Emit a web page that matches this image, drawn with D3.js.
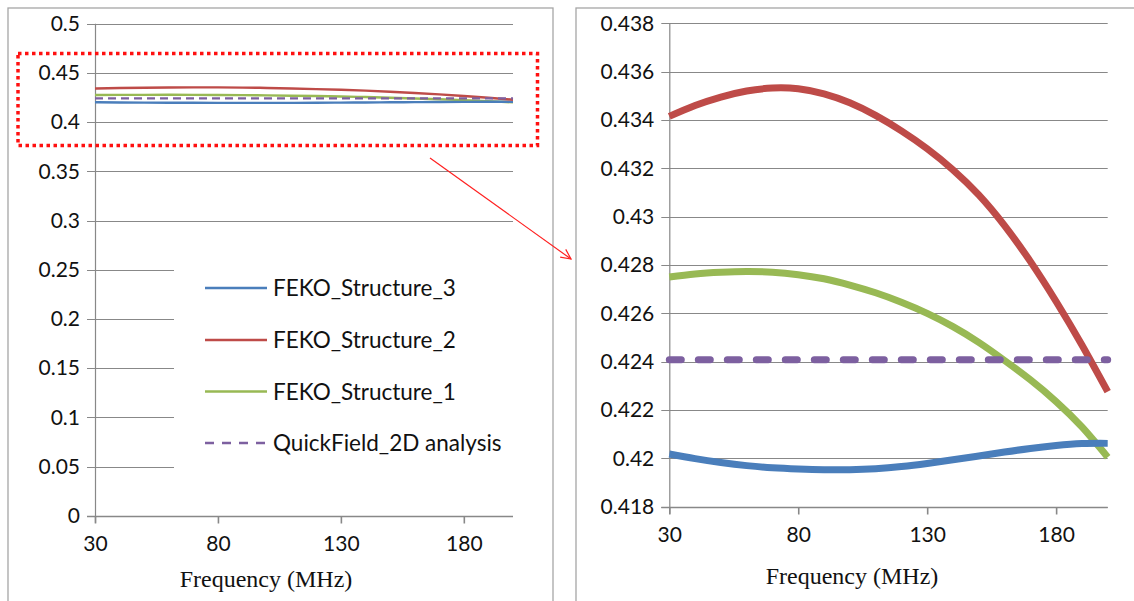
<!DOCTYPE html>
<html>
<head>
<meta charset="utf-8">
<script src="https://d3js.org/d3.v7.min.js"></script>
<style>
  html, body { margin: 0; padding: 0; background: #ffffff; }
  svg { display: block; }
</style>
</head>
<body>
<svg id="chart" width="1134" height="601"></svg>
<script>
// ---------------- data ----------------
const frequency = [30, 40, 50, 60, 70, 80, 90, 100, 110, 120, 130, 140, 150, 160, 170, 180, 190, 200];
const feko3 = [0.42018, 0.41999, 0.41983, 0.41970, 0.41961, 0.41956, 0.41953, 0.41953, 0.41957, 0.41966,
               0.41979, 0.41994, 0.42010, 0.42026, 0.42041, 0.42053, 0.42061, 0.42062];
const feko2 = [0.43415, 0.43460, 0.43495, 0.43520, 0.43532, 0.43529, 0.43508, 0.43471, 0.43419, 0.43355,
               0.43281, 0.43194, 0.43090, 0.42963, 0.42815, 0.42649, 0.42469, 0.42276];
const feko1 = [0.42750, 0.42763, 0.42770, 0.42773, 0.42770, 0.42760, 0.42743, 0.42717, 0.42685, 0.42646,
               0.42600, 0.42545, 0.42480, 0.42405, 0.42325, 0.42235, 0.42130, 0.42005];
const quickField = [0.42408, 0.42408, 0.42408, 0.42408, 0.42408, 0.42408, 0.42408, 0.42408, 0.42408, 0.42408,
                    0.42408, 0.42408, 0.42408, 0.42408, 0.42408, 0.42408, 0.42408, 0.42408];
const seriesNames = ["FEKO_Structure_3", "FEKO_Structure_2", "FEKO_Structure_1", "QuickField_2D analysis"];
const xTicks = [30, 80, 130, 180];
const yTicksLeft = [0, 0.05, 0.1, 0.15, 0.2, 0.25, 0.3, 0.35, 0.4, 0.45, 0.5];
const yTicksRight = [0.418, 0.42, 0.422, 0.424, 0.426, 0.428, 0.43, 0.432, 0.434, 0.436, 0.438];
const xTitle = "Frequency (MHz)";

// ---------------- styles ----------------
const colors = ["#4A7EBB", "#BE4B48", "#98B954", "#7D60A0"];
const gridColor = "#888888";
const tickFont = "Lato, 'Open Sans', sans-serif";
const titleFont = "'Liberation Serif', 'DejaVu Serif', serif";

const svg = d3.select("#chart");
const seriesData = [feko3, feko2, feko1, quickField].map((vals, i) => ({
  name: seriesNames[i],
  color: colors[i],
  dashed: i === 3,
  points: frequency.map((f, j) => ({ f: f, v: vals[j] }))
}));

// panel borders
svg.append("rect").attr("x", 8).attr("y", 8).attr("width", 545).attr("height", 620)
  .attr("fill", "none").attr("stroke", "#A6A6A6").attr("stroke-width", 1.3);
svg.append("rect").attr("x", 576).attr("y", 8).attr("width", 600).attr("height", 620)
  .attr("fill", "none").attr("stroke", "#A6A6A6").attr("stroke-width", 1.3);

function drawPanel(opts) {
  const g = svg.append("g");
  const x = d3.scaleLinear().domain([30, 200]).range([opts.x0, opts.x1]);
  const y = d3.scaleLinear().domain(opts.yDomain).range([opts.yBottom, opts.yTop]);

  // gridlines (with left tick extension)
  g.selectAll("line.grid").data(opts.yTicks).join("line")
    .attr("x1", opts.x0 - 8).attr("x2", opts.x1)
    .attr("y1", d => Math.round(y(d)) + 0.5).attr("y2", d => Math.round(y(d)) + 0.5)
    .attr("stroke", gridColor).attr("stroke-width", 1.2);

  // optional legend knock-out
  if (opts.legendBox) {
    const b = opts.legendBox;
    g.append("rect").attr("x", b.x).attr("y", b.y).attr("width", b.w).attr("height", b.h).attr("fill", "#fff");
  }

  // y axis line
  g.append("line")
    .attr("x1", opts.x0 + 0.5).attr("x2", opts.x0 + 0.5)
    .attr("y1", y(opts.yDomain[1])).attr("y2", opts.yBottom + 7)
    .attr("stroke", gridColor).attr("stroke-width", 1.2);
  // x axis line
  g.append("line")
    .attr("x1", opts.x0 - 8).attr("x2", opts.x1)
    .attr("y1", Math.round(opts.yBottom) + 0.5).attr("y2", Math.round(opts.yBottom) + 0.5)
    .attr("stroke", gridColor).attr("stroke-width", 1.6);

  // y axis labels
  const yAxis = d3.axisLeft(y).tickValues(opts.yTicks).tickSize(0).tickPadding(15)
    .tickFormat(d => String(+d.toFixed(3)));
  const ya = g.append("g").attr("transform", `translate(${opts.x0},0)`).call(yAxis);
  ya.select(".domain").remove();
  ya.selectAll("text").attr("font-family", tickFont).attr("font-size", opts.fontSize).attr("fill", "#111");

  // x axis ticks + labels
  const xAxis = d3.axisBottom(x).tickValues(xTicks).tickSize(7).tickPadding(13).tickFormat(d3.format("d"));
  const xa = g.append("g").attr("transform", `translate(0,${Math.round(opts.yBottom) + 0.5})`).call(xAxis);
  xa.select(".domain").remove();
  xa.selectAll("line").attr("stroke", gridColor).attr("stroke-width", 1.6);
  xa.selectAll("text").attr("font-family", tickFont).attr("font-size", opts.fontSize).attr("fill", "#111");

  // x title
  g.append("text").attr("x", opts.titleX).attr("y", opts.titleY).attr("text-anchor", "middle")
    .attr("font-family", titleFont).attr("font-size", 24).attr("fill", "#111").text(xTitle);

  // series
  const line = d3.line().x(d => x(d.f)).y(d => y(d.v)).curve(d3.curveNatural);
  const order = [2, 0, 1, 3];
  order.forEach(i => {
    const s = seriesData[i];
    g.append("path").datum(s.points)
      .attr("d", line)
      .attr("fill", "none")
      .attr("stroke", s.color)
      .attr("stroke-width", opts.lineWidth)
      .attr("stroke-linecap", s.dashed ? opts.dashCap : "butt")
      .attr("stroke-dasharray", s.dashed ? opts.dash : null);
  });
  return { g, x, y };
}

// left panel
drawPanel({
  x0: 95, x1: 513, yTop: 23.7, yBottom: 515.7, yDomain: [0, 0.5], yTicks: yTicksLeft,
  fontSize: 21, lineWidth: 2.4, dash: "8,5", dashCap: "butt", titleX: 266, titleY: 587,
  legendBox: { x: 174, y: 236, w: 345, h: 258 }
});

// legend
const legendRows = [288, 340, 391.5, 443];
const lg = svg.append("g");
seriesData.forEach((s, i) => {
  lg.append("line").attr("x1", 205).attr("x2", 267).attr("y1", legendRows[i]).attr("y2", legendRows[i])
    .attr("stroke", s.color).attr("stroke-width", 2.6)
    .attr("stroke-dasharray", s.dashed ? "9,8" : null);
  lg.append("text").attr("x", 273).attr("y", legendRows[i] + 8)
    .attr("font-family", tickFont).attr("font-size", 22.5).attr("fill", "#111").text(s.name);
});

// right panel
drawPanel({
  x0: 669.3, x1: 1107.7, yTop: 23.3, yBottom: 506.7, yDomain: [0.418, 0.438], yTicks: yTicksRight,
  fontSize: 21, lineWidth: 7, dash: "12,17", dashCap: "round", titleX: 852, titleY: 584
});

// red dotted zoom box
svg.append("rect").attr("x", 18).attr("y", 53.5).attr("width", 519.5).attr("height", 92)
  .attr("fill", "none").attr("stroke", "#FF1010").attr("stroke-width", 3.5)
  .attr("stroke-dasharray", "3.5,3.5");

// arrow
const ax1 = 430, ay1 = 158, ax2 = 571, ay2 = 259;
svg.append("line").attr("x1", ax1).attr("y1", ay1).attr("x2", ax2).attr("y2", ay2)
  .attr("stroke", "#FF2020").attr("stroke-width", 1.2);
const ang = Math.atan2(ay2 - ay1, ax2 - ax1);
const hl = 11, ha = 0.45;
svg.append("path")
  .attr("d", `M${ax2 - hl * Math.cos(ang - ha)},${ay2 - hl * Math.sin(ang - ha)} L${ax2},${ay2} L${ax2 - hl * Math.cos(ang + ha)},${ay2 - hl * Math.sin(ang + ha)}`)
  .attr("fill", "none").attr("stroke", "#FF2020").attr("stroke-width", 1.2);
</script>
</body>
</html>
